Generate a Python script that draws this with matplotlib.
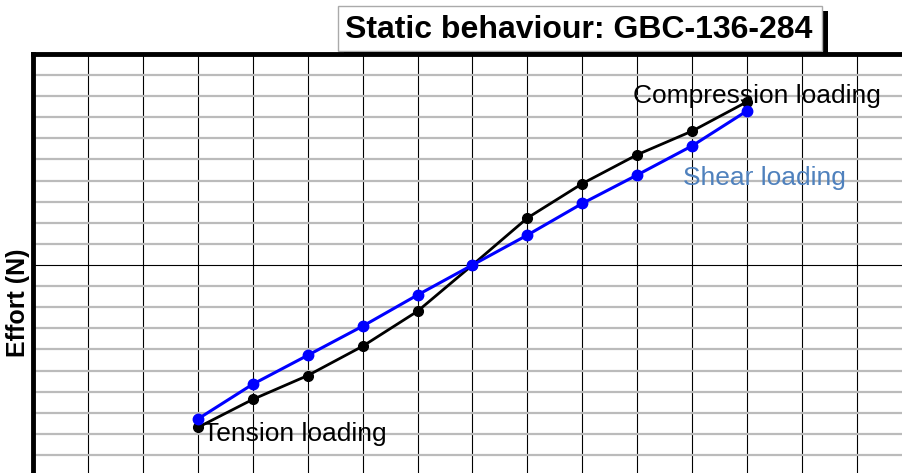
import matplotlib
matplotlib.use("Agg")
import matplotlib.pyplot as plt
from matplotlib.patches import Rectangle

plt.rcParams['font.family'] = ['Liberation Sans', 'DejaVu Sans']

# displacement steps and measured effort
steps = [-5, -4, -3, -2, -1, 0, 1, 2, 3, 4, 5]
axial = [-7.7, -6.37, -5.24, -3.85, -2.19, 0, 2.23, 3.86, 5.23, 6.35, 7.74]
shear = [-7.3, -5.65, -4.28, -2.9, -1.42, 0, 1.42, 2.92, 4.27, 5.65, 7.31]

title = "Static behaviour: GBC-136-284"
W, H = 902, 473


def main():
	fig = plt.figure(figsize=(W / 100, H / 100), dpi=100)
	# axes runs past the right and bottom edges of the picture
	ax = fig.add_axes([33 / W, -3 / H, 879 / W, 422 / H])
	ax.set_xlim(-8, 8)
	ax.set_ylim(-10, 10)

	for x in range(-8, 9):
		ax.axvline(x, color='black', lw=0.8, zorder=1)
	for y in range(-10, 11):
		if y == 0:
			ax.axhline(y, color='black', lw=0.8, zorder=1.5)
		else:
			ax.axhline(y, color='#bbbbbb', lw=1.6, zorder=1.2)

	ax.plot(steps, axial, color='black', lw=2, marker='o', ms=7, zorder=3)
	ax.plot(steps, shear, color='#0000ff', lw=2.2, marker='o', ms=7.5, zorder=4)

	ax.text(2.93, 8.0, "Compression loading", fontsize=19, ha='left', va='center', zorder=5)
	ax.text(3.84, 4.12, "Shear loading", fontsize=19, color='#4f81bd', ha='left', va='center', zorder=5)
	ax.text(-4.9, -8.0, "Tension loading", fontsize=19, ha='left', va='center', zorder=5)

	ax.set_xticks([])
	ax.set_yticks([])
	for side in ['left', 'top']:
		ax.spines[side].set_linewidth(3.5)
	for side in ['right', 'bottom']:
		ax.spines[side].set_visible(False)

	fig.text(18 / W, 1 - 303 / H, "Effort (N)", rotation=90, fontsize=18, fontweight='bold',
		ha='center', va='center')

	# title box with a drop shadow
	fig.patches.append(Rectangle((344 / W, 1 - 57 / H), 484 / W, 46 / H, transform=fig.transFigure,
		facecolor='black', edgecolor='none', zorder=-1))
	fig.patches.append(Rectangle((338 / W, 1 - 51 / H), 484 / W, 45 / H, transform=fig.transFigure,
		facecolor='white', edgecolor='#aaaaaa', lw=1, zorder=-0.5))
	fig.text(579 / W, 1 - 30 / H, title, fontsize=23, fontweight='bold', ha='center', va='center')

	fig.savefig("out.png", dpi=100)


if __name__ == "__main__":
	main()
